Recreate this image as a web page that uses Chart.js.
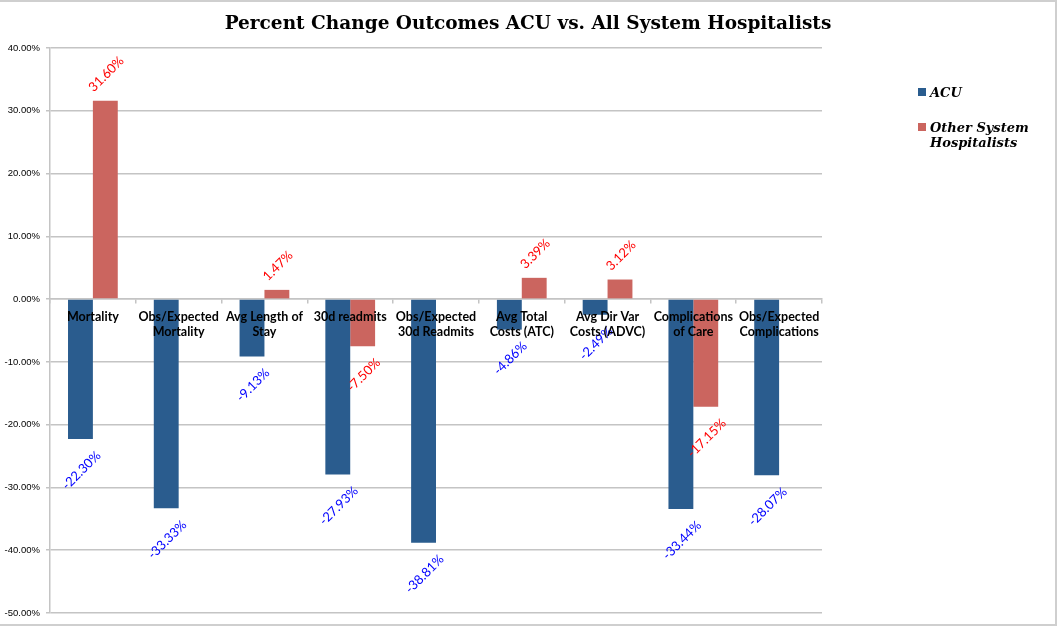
<!DOCTYPE html>
<html>
<head>
<meta charset="utf-8">
<script src="https://cdn.jsdelivr.net/npm/chart.js@4/dist/chart.umd.min.js"></script>
<style>
  html, body { margin: 0; padding: 0; background: #ffffff; }
  #wrap { position: relative; width: 1058px; height: 627px; }
  canvas { display: block; }
</style>
</head>
<body>
<div id="wrap"><canvas id="c" width="1058" height="627"></canvas></div>
<script>
const chartTitle = 'Percent Change Outcomes ACU vs. All System Hospitalists';
const categories = [
  'Mortality',
  ['Obs/Expected', 'Mortality'],
  ['Avg Length of', 'Stay'],
  '30d readmits',
  ['Obs/Expected', '30d Readmits'],
  ['Avg Total', 'Costs (ATC)'],
  ['Avg Dir Var', 'Costs (ADVC)'],
  ['Complications', 'of Care'],
  ['Obs/Expected', 'Complications']
];
const seriesNames = ['ACU', ['Other System', 'Hospitalists']];
const acuValues = [-22.30, -33.33, -9.13, -27.93, -38.81, -4.86, -2.49, -33.44, -28.07];
const otherValues = [31.60, null, 1.47, -7.50, null, 3.39, 3.12, -17.15, null];
const yTicks = [40, 30, 20, 10, 0, -10, -20, -30, -40, -50];

const colors = ['#2a5c8e', '#cb655f'];
const labelColors = ['#0000ff', '#ff0000'];

const framePlugin = {
  id: 'frame',
  beforeDraw(chart) {
    const ctx = chart.ctx;
    ctx.save();
    ctx.fillStyle = '#ffffff';
    ctx.fillRect(0, 0, chart.width, chart.height);
    ctx.strokeStyle = '#cfcfcf';
    ctx.lineWidth = 2;
    ctx.beginPath();
    ctx.moveTo(0, 1); ctx.lineTo(1057, 1);
    ctx.moveTo(1056, 0); ctx.lineTo(1056, 626);
    ctx.moveTo(0, 625); ctx.lineTo(1057, 625);
    ctx.stroke();
    ctx.restore();
  },
  afterDraw(chart) {
    const ctx = chart.ctx;
    ctx.save();
    // title
    ctx.fillStyle = '#000000';
    ctx.font = 'bold 18.5px "DejaVu Serif"';
    ctx.textAlign = 'center';
    ctx.textBaseline = 'alphabetic';
    ctx.fillText(chartTitle, 528, 29);
    // legend
    ctx.font = 'italic bold 13px "DejaVu Serif"';
    ctx.textAlign = 'left';
    const legendY = [92, 127];
    seriesNames.forEach((name, i) => {
      const y = legendY[i];
      ctx.fillStyle = colors[i];
      ctx.fillRect(918, y - 4, 8, 8);
      ctx.fillStyle = '#000000';
      const lines = Array.isArray(name) ? name : [name];
      lines.forEach((ln, j) => ctx.fillText(ln, 930, y + 5 + j * 15));
    });
    ctx.restore();
  }
};

const valueLabelPlugin = {
  id: 'valueLabels',
  afterDatasetsDraw(chart) {
    const ctx = chart.ctx;
    ctx.save();
    ctx.font = '13px Lato';
    ctx.textAlign = 'center';
    ctx.textBaseline = 'middle';
    chart.data.datasets.forEach((ds, di) => {
      const meta = chart.getDatasetMeta(di);
      meta.data.forEach((bar, i) => {
        const v = ds.data[i];
        if (v === null || v === undefined) return;
        const txt = v.toFixed(2) + '%';
        const w = ctx.measureText(txt).width;
        const boxH = (w + 12) / Math.SQRT2;
        const gap = v >= 0 ? 7 : 10;
        const cy = v >= 0 ? bar.y - gap - boxH / 2 : bar.y + gap + boxH / 2;
        ctx.save();
        ctx.translate(bar.x + 1, cy);
        ctx.rotate(-Math.PI / 4);
        ctx.fillStyle = labelColors[di];
        ctx.fillText(txt, 0, 0);
        ctx.restore();
      });
    });
    ctx.restore();
  }
};

new Chart(document.getElementById('c'), {
  type: 'bar',
  data: {
    labels: categories,
    datasets: [
      { label: 'ACU', data: acuValues, backgroundColor: colors[0], borderWidth: 0 },
      { label: 'Other System Hospitalists', data: otherValues, backgroundColor: colors[1], borderWidth: 0 }
    ]
  },
  options: {
    responsive: false,
    animation: false,
    events: [],
    layout: { padding: { top: 48, right: 236, bottom: 14, left: 0 } },
    plugins: {
      legend: { display: false },
      title: { display: false },
      tooltip: { enabled: false }
    },
    datasets: {
      bar: { categoryPercentage: 0.58, barPercentage: 1.0 }
    },
    scales: {
      x: {
        position: { y: 0 },
        grid: { drawOnChartArea: false, drawTicks: true, tickLength: 4, color: '#c4c4c4', lineWidth: 1.5, offset: true },
        border: { display: true, color: '#c4c4c4', width: 1.5 },
        ticks: {
          z: 1,
          autoSkip: false,
          maxRotation: 0,
          minRotation: 0,
          padding: 6,
          color: '#000000',
          font: { family: 'Lato', weight: 'bold', size: 12.5, lineHeight: 1.2 }
        }
      },
      y: {
        min: -50,
        max: 40,
        afterFit(scale) { scale.width = 50; },
        afterBuildTicks(scale) { scale.ticks = yTicks.map(v => ({ value: v })); },
        grid: { color: '#c4c4c4', lineWidth: 1.5, drawTicks: true, tickLength: 4 },
        border: { display: true, color: '#c4c4c4', width: 1.5 },
        ticks: {
          padding: 6,
          color: '#000000',
          font: { family: 'Liberation Sans', size: 9.5 },
          callback: v => v.toFixed(2) + '%'
        }
      }
    }
  },
  plugins: [framePlugin, valueLabelPlugin]
});
</script>
</body>
</html>
